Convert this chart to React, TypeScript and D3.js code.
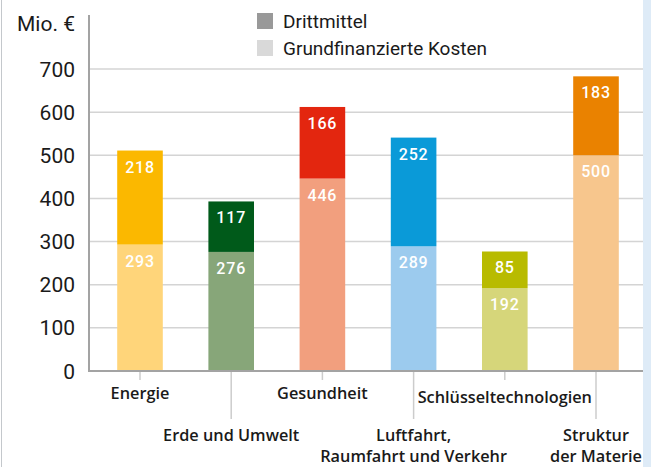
import React, { useEffect, useRef } from 'react';
import * as d3 from 'd3';

const categories = ['Energie', 'Erde und Umwelt', 'Gesundheit', 'Luftfahrt, Raumfahrt und Verkehr', 'Schlüsseltechnologien', 'Struktur der Materie'];
const labelLines = [['Energie'], ['Erde und Umwelt'], ['Gesundheit'], ['Luftfahrt,', 'Raumfahrt und Verkehr'], ['Schlüsseltechnologien'], ['Struktur', 'der Materie']];
const grundfinanziert = [293, 276, 446, 289, 192, 500];
const drittmittel = [218, 117, 166, 252, 85, 183];
const darkColors = ['#fbb800', '#005a1a', '#e3260f', '#0a9ad8', '#b8bb00', '#ea8200'];
const lightColors = ['#ffd57a', '#87a679', '#f29f7e', '#9ccbee', '#d6d67a', '#f7c68d'];
const yTicks = [0, 100, 200, 300, 400, 500, 600, 700];
const legendItems = ['Drittmittel', 'Grundfinanzierte Kosten'];
const legendColors = ['#999999', '#d9d9d9'];

const W = 651;
const H = 467;
const FONT = 'Roboto, "Open Sans", sans-serif';
const CAT_FONT = '"Open Sans", Roboto, sans-serif';

export default function App() {
  const ref = useRef<SVGSVGElement | null>(null);

  useEffect(() => {
    if (!ref.current) return;
    const svg = d3.select(ref.current);
    svg.selectAll('*').remove();

    const axisX = 89;
    const rightX = 643;
    const x = d3.scaleBand<string>().domain(categories).range([94.4, 641.6]).paddingInner(0.5).paddingOuter(0.25);
    const y = d3.scaleLinear().domain([0, 700]).range([371, 69]);

    svg.append('rect').attr('x', 0).attr('y', 0).attr('width', W).attr('height', H).attr('fill', '#fff');
    svg.append('rect').attr('x', rightX).attr('y', 0).attr('width', W - rightX).attr('height', H).attr('fill', '#deebf7');
    svg.append('line').attr('x1', 1.5).attr('x2', 1.5).attr('y1', 0).attr('y2', H).attr('stroke', '#c4c8cc').attr('stroke-width', 1);

    // gridlines
    svg.append('g')
      .selectAll('line')
      .data(yTicks.filter((d) => d > 0))
      .enter()
      .append('line')
      .attr('x1', axisX)
      .attr('x2', rightX)
      .attr('y1', (d) => y(d))
      .attr('y2', (d) => y(d))
      .attr('stroke', '#d4d4d4')
      .attr('stroke-width', 1.5);

    // y tick labels
    svg.append('g')
      .selectAll('text')
      .data(yTicks)
      .enter()
      .append('text')
      .attr('x', 75)
      .attr('y', (d) => y(d) + 7.5)
      .attr('text-anchor', 'end')
      .attr('font-family', FONT)
      .attr('font-size', 21)
      .attr('fill', '#1a1a1a')
      .text((d) => d);

    svg.append('text')
      .attr('x', 75)
      .attr('y', 31)
      .attr('text-anchor', 'end')
      .attr('font-family', FONT)
      .attr('font-size', 21)
      .attr('fill', '#1a1a1a')
      .text('Mio. €');

    // bars
    const bw = x.bandwidth();
    const g = svg.append('g');
    categories.forEach((c, i) => {
      const x0 = x(c) as number;
      const base = grundfinanziert[i];
      const top = base + drittmittel[i];
      g.append('rect').attr('x', x0).attr('y', y(base)).attr('width', bw).attr('height', y(0) - y(base)).attr('fill', lightColors[i]);
      g.append('rect').attr('x', x0).attr('y', y(top)).attr('width', bw).attr('height', y(base) - y(top)).attr('fill', darkColors[i]);
      [[base, base], [top, drittmittel[i]]].forEach(([pos, v]) => {
        g.append('text')
          .attr('x', x0 + bw / 2)
          .attr('y', y(pos) + 22)
          .attr('text-anchor', 'middle')
          .attr('font-family', FONT)
          .attr('font-size', 16)
          .attr('font-weight', 500)
          .attr('letter-spacing', 0.8)
          .attr('fill', '#fff')
          .text(v);
      });
    });

    // axes lines
    svg.append('line').attr('x1', axisX).attr('x2', axisX).attr('y1', 15).attr('y2', 372).attr('stroke', '#a3a3a3').attr('stroke-width', 2);
    svg.append('line').attr('x1', axisX - 1).attr('x2', rightX).attr('y1', 371).attr('y2', 371).attr('stroke', '#a3a3a3').attr('stroke-width', 2);

    // category ticks and labels
    categories.forEach((c, i) => {
      const cx = (x(c) as number) + bw / 2;
      const low = i % 2 === 1;
      svg.append('line').attr('x1', cx).attr('x2', cx).attr('y1', 372).attr('y2', low ? 419 : 380).attr('stroke', '#cccccc').attr('stroke-width', 1.5);
      const lines = labelLines[i];
      lines.forEach((t, j) => {
        const baseY = low ? 441 + j * 21 : (i === 4 ? 403 : 399);
        svg.append('text')
          .attr('x', cx)
          .attr('y', baseY)
          .attr('text-anchor', 'middle')
          .attr('font-family', CAT_FONT)
          .attr('font-size', 16.3)
          .attr('font-weight', 600)
          .attr('fill', '#1a1a1a')
          .text(t);
      });
    });

    // legend
    legendItems.forEach((t, i) => {
      svg.append('rect').attr('x', 257).attr('y', 13 + i * 27).attr('width', 16).attr('height', 16).attr('fill', legendColors[i]);
      svg.append('text')
        .attr('x', 283)
        .attr('y', 28 + i * 27)
        .attr('font-family', FONT)
        .attr('font-size', 19)
        .attr('fill', '#1a1a1a')
        .text(t);
    });
  }, []);

  return (
    <div style={{ position: 'absolute', top: 0, left: 0 }}>
      <svg ref={ref} width={W} height={H} style={{ display: 'block' }} />
    </div>
  );
}
